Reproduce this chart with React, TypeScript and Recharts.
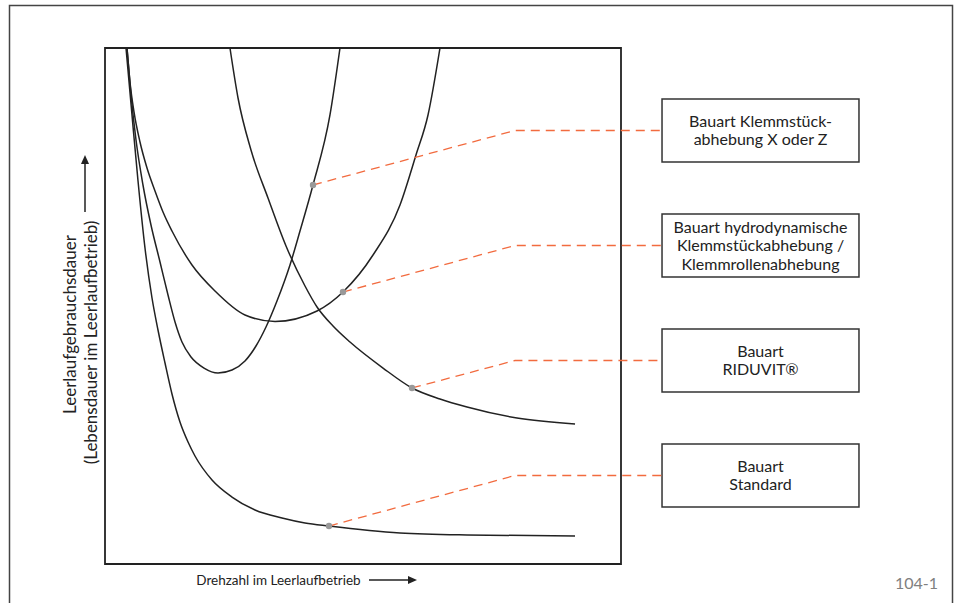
import React from 'react';
import { ComposedChart, Line, XAxis, YAxis, ReferenceArea, ReferenceDot } from 'recharts';

// all values in chart units: x 0..100 / y 0..100 inside the plot frame
const standardCurve = [
  { x: 4.07, y: 100 }, { x: 5.23, y: 87.02 }, { x: 6.4, y: 74.22 }, { x: 7.75, y: 61.24 },
  { x: 9.11, y: 51.55 }, { x: 10.27, y: 45.35 }, { x: 11.63, y: 38.95 }, { x: 12.98, y: 32.95 },
  { x: 14.53, y: 27.52 }, { x: 16.09, y: 23.64 }, { x: 17.44, y: 20.93 }, { x: 20.74, y: 16.28 },
  { x: 24.61, y: 12.98 }, { x: 29.07, y: 10.47 }, { x: 34.3, y: 8.91 }, { x: 38.76, y: 7.95 },
  { x: 43.41, y: 7.36 }, { x: 57.17, y: 6.01 }, { x: 70.16, y: 5.62 }, { x: 91.09, y: 5.43 },
];

const riduvitCurve = [
  { x: 24.22, y: 100 }, { x: 25.78, y: 90.31 }, { x: 28.29, y: 80.23 }, { x: 31.59, y: 70.93 },
  { x: 35.08, y: 61.63 }, { x: 38.76, y: 53.88 }, { x: 41.09, y: 49.81 }, { x: 44.19, y: 46.12 },
  { x: 47.48, y: 43.02 }, { x: 53.88, y: 37.98 }, { x: 59.5, y: 34.11 }, { x: 64.92, y: 31.98 },
  { x: 70.16, y: 30.43 }, { x: 79.84, y: 28.29 }, { x: 91.09, y: 27.13 },
];

const klemmXZCurve = [
  { x: 4.26, y: 100 }, { x: 5.04, y: 90.89 }, { x: 6.01, y: 82.17 }, { x: 7.36, y: 73.45 },
  { x: 8.91, y: 65.7 }, { x: 10.66, y: 58.53 }, { x: 12.21, y: 52.13 }, { x: 13.57, y: 46.9 },
  { x: 14.92, y: 43.02 }, { x: 16.67, y: 40.12 }, { x: 19.19, y: 37.98 }, { x: 21.9, y: 37.02 },
  { x: 24.61, y: 37.6 }, { x: 27.13, y: 39.34 }, { x: 29.26, y: 42.25 }, { x: 31.2, y: 45.93 },
  { x: 33.33, y: 50.97 }, { x: 35.85, y: 57.95 }, { x: 37.79, y: 64.53 }, { x: 40.31, y: 73.45 },
  { x: 43.6, y: 87.02 }, { x: 45.54, y: 100 },
];

const hydroCurve = [
  { x: 4.26, y: 100 }, { x: 4.84, y: 93.41 }, { x: 5.62, y: 87.6 }, { x: 6.78, y: 81.78 },
  { x: 8.14, y: 76.74 }, { x: 9.69, y: 72.29 }, { x: 11.24, y: 68.22 }, { x: 12.98, y: 64.53 },
  { x: 16.86, y: 57.95 }, { x: 21.32, y: 52.91 }, { x: 27.13, y: 48.26 }, { x: 32.95, y: 47.0 },
  { x: 41.09, y: 49.03 }, { x: 46.12, y: 52.71 }, { x: 51.94, y: 59.88 }, { x: 57.17, y: 69.57 },
  { x: 60.27, y: 79.26 }, { x: 62.6, y: 87.02 }, { x: 64.92, y: 100 },
];

const curves = [standardCurve, riduvitCurve, klemmXZCurve, hydroCurve];

const labelLines = [
  ['Bauart Klemmstück-', 'abhebung X oder Z'],
  ['Bauart hydrodynamische', 'Klemmstückabhebung /', 'Klemmrollenabhebung'],
  ['Bauart', 'RIDUVIT®'],
  ['Bauart', 'Standard'],
];

// marker on each curve, matching labelLines order
const markerX = [40.31, 46.12, 59.5, 43.41];
const markerY = [73.45, 52.71, 34.11, 7.36];

// label boxes (chart units)
const boxTop = [90.12, 67.83, 45.54, 23.26];
const boxBottom = [77.91, 55.62, 33.33, 11.05];
const boxLeft = 107.95;
const boxRight = 146.12;
const kinkX = 79.46;

const ink = '#222';
const leader = '#f26b3f';
const font = 'Lato, "Open Sans", sans-serif';

const boxText = (lines: string[]) => (props: any) => {
  const vb = props.viewBox || {};
  const cx = vb.x + vb.width / 2;
  const cy = vb.y + vb.height / 2;
  const lh = 18.5;
  const y0 = cy - ((lines.length - 1) * lh) / 2;
  return (
    <text x={cx} textAnchor="middle" fontFamily={font} fontSize={16} fill={ink}>
      {lines.map((l, i) => (
        <tspan key={i} x={cx} y={y0 + i * lh} dy="0.35em">
          {l}
        </tspan>
      ))}
    </text>
  );
};

export default function App() {
  return (
    <div style={{ position: 'relative', width: 959, height: 603, overflow: 'hidden', background: '#fff' }}>
      <style>{'body{margin:0}'}</style>
      <ComposedChart width={959} height={603} margin={{ top: 48, right: 80, bottom: 39, left: 105 }}>
        <XAxis type="number" dataKey="x" domain={[0, 150]} hide allowDataOverflow />
        <YAxis type="number" dataKey="y" domain={[0, 100]} hide allowDataOverflow />
        <ReferenceArea x1={0} x2={100} y1={0} y2={100} fill="none" stroke={ink} strokeWidth={1.8} />
        {curves.map((c, i) => (
          <Line
            key={'c' + i}
            data={c}
            dataKey="y"
            type="monotone"
            stroke={ink}
            strokeWidth={1.5}
            dot={false}
            isAnimationActive={false}
          />
        ))}
        {labelLines.map((_, i) => {
          const yMid = (boxTop[i] + boxBottom[i]) / 2;
          const pts = [
            { x: markerX[i], y: markerY[i] },
            { x: kinkX, y: yMid },
            { x: boxLeft, y: yMid },
          ];
          return (
            <Line
              key={'l' + i}
              data={pts}
              dataKey="y"
              type="linear"
              stroke={leader}
              strokeWidth={1.3}
              strokeDasharray="9 6"
              dot={false}
              isAnimationActive={false}
            />
          );
        })}
        {labelLines.map((lines, i) => (
          <ReferenceArea
            key={'b' + i}
            x1={boxLeft}
            x2={boxRight}
            y1={boxBottom[i]}
            y2={boxTop[i]}
            fill="#fff"
            fillOpacity={1}
            stroke="#333"
            strokeWidth={1.5}
            label={boxText(lines)}
          />
        ))}
        {markerX.map((x, i) => (
          <ReferenceDot key={'d' + i} x={x} y={markerY[i]} r={3.2} fill="#999" stroke="none" />
        ))}
      </ComposedChart>
      <svg
        width={959}
        height={603}
        style={{ position: 'absolute', left: 0, top: 0, pointerEvents: 'none' }}
      >
        <rect x={9.5} y={5.5} width={943} height={640} fill="none" stroke="#444" strokeWidth={1.5} />
        <text x={278.5} y={580} dy="0.35em" textAnchor="middle" fontFamily={font} fontSize={13.5} fill={ink}>
          Drehzahl im Leerlaufbetrieb
        </text>
        <line x1={369} y1={580} x2={409} y2={580} stroke={ink} strokeWidth={1.5} />
        <path d="M417,580 L408,576 L408,584 Z" fill={ink} />
        <g transform="translate(70,324.5) rotate(-90)">
          <text x={0} y={0} dy="0.35em" textAnchor="middle" fontFamily={font} fontSize={17} fill={ink}>
            Leerlaufgebrauchsdauer
          </text>
        </g>
        <g transform="translate(91,342.5) rotate(-90)">
          <text x={0} y={0} dy="0.35em" textAnchor="middle" fontFamily={font} fontSize={17} fill={ink}>
            (Lebensdauer im Leerlaufbetrieb)
          </text>
        </g>
        <line x1={85} y1={212} x2={85} y2={163} stroke={ink} strokeWidth={1.5} />
        <path d="M85,155 L81,164 L89,164 Z" fill={ink} />
        <text x={938} y={583} dy="0.35em" textAnchor="end" fontFamily={font} fontSize={16} fill="#808080">
          104-1
        </text>
      </svg>
    </div>
  );
}
